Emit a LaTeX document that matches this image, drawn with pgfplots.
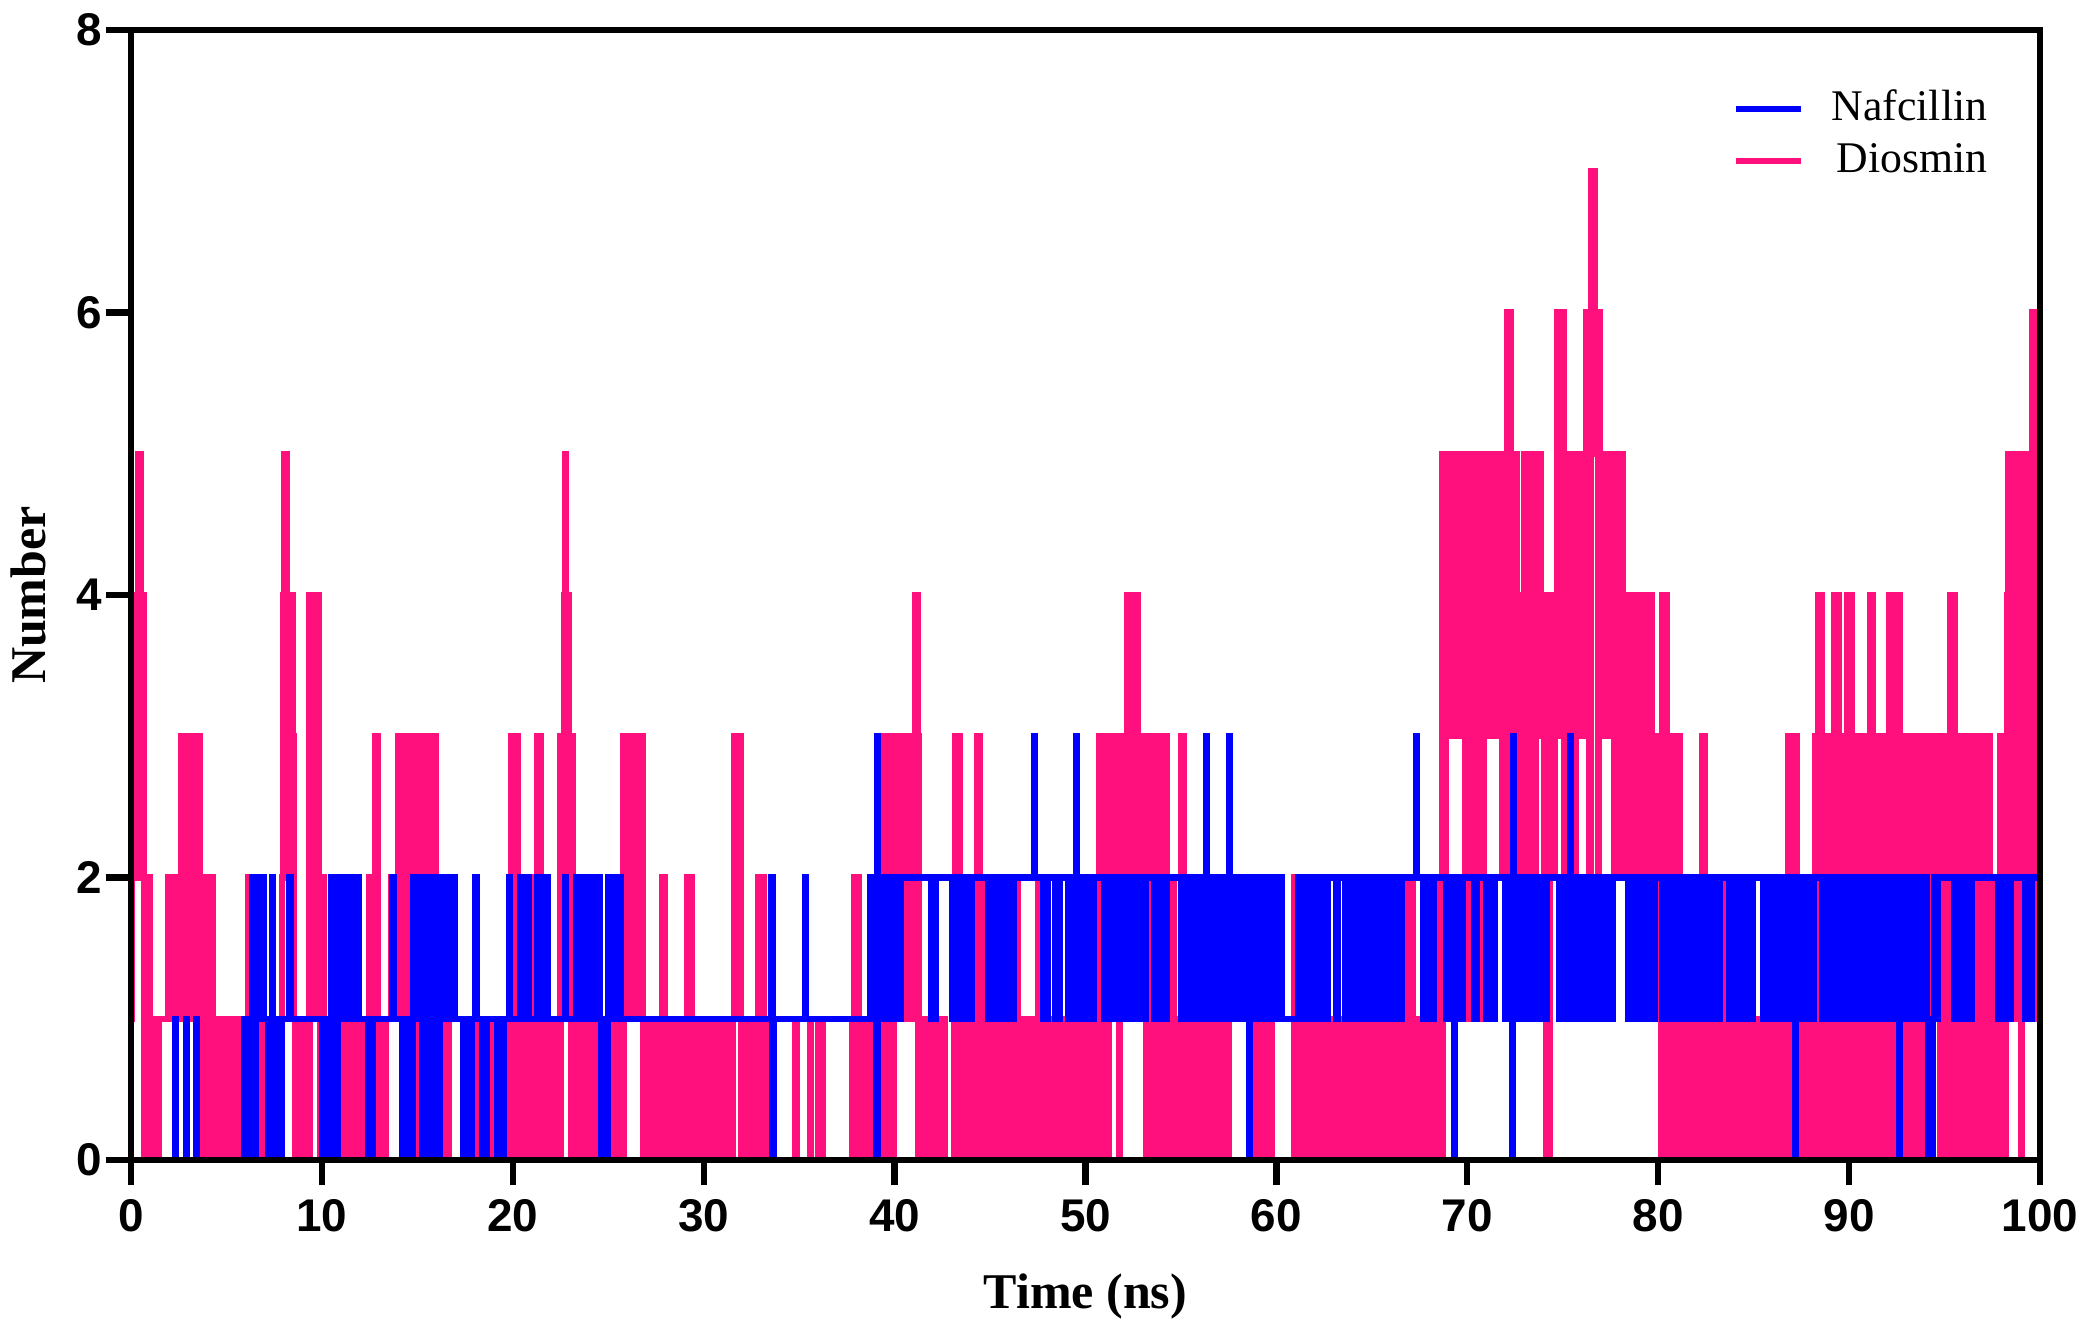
\documentclass[border=0pt]{standalone}
\usepackage{fontspec}
\setmainfont{Liberation Serif}
\setsansfont{Liberation Sans}
\usepackage{pgfplots}
\usepackage{pgfplotstable}
\pgfplotsset{compat=1.18}
\definecolor{dio}{RGB}{255,16,125}
\definecolor{naf}{RGB}{0,0,255}

% Diosmin, one value every 0.05 ns (20 values per line = 1 ns)
\pgfplotstableread[row sep=\\]{
y\\
1\\4\\3\\4\\2\\4\\3\\5\\4\\5\\4\\4\\2\\4\\0\\2\\0\\2\\0\\2\\
0\\1\\0\\1\\0\\1\\0\\1\\0\\1\\1\\1\\1\\1\\1\\1\\1\\1\\1\\2\\
1\\2\\1\\2\\1\\2\\1\\2\\1\\2\\1\\2\\1\\3\\2\\3\\1\\3\\2\\3\\
1\\3\\2\\3\\1\\3\\2\\3\\1\\3\\2\\3\\1\\2\\0\\2\\0\\2\\1\\2\\
0\\2\\0\\2\\0\\2\\0\\1\\0\\1\\0\\1\\0\\1\\0\\1\\0\\1\\0\\1\\
1\\1\\1\\1\\0\\1\\0\\1\\0\\1\\0\\1\\0\\1\\0\\1\\0\\1\\0\\1\\
0\\1\\0\\2\\1\\2\\0\\1\\1\\1\\1\\1\\0\\1\\1\\1\\1\\1\\1\\0\\
0\\1\\0\\1\\0\\1\\1\\1\\1\\1\\0\\1\\0\\1\\0\\1\\0\\1\\2\\4\\
5\\2\\5\\4\\2\\4\\1\\4\\2\\4\\3\\1\\0\\1\\0\\1\\0\\1\\0\\1\\
0\\1\\0\\1\\0\\1\\0\\4\\1\\4\\2\\4\\1\\4\\2\\4\\4\\1\\0\\1\\
1\\2\\1\\0\\1\\0\\0\\0\\1\\0\\0\\1\\0\\0\\1\\0\\1\\0\\0\\1\\
0\\1\\0\\1\\0\\1\\0\\1\\0\\1\\0\\1\\0\\1\\0\\1\\1\\1\\0\\0\\
0\\0\\1\\0\\1\\0\\1\\0\\1\\0\\2\\1\\0\\1\\0\\1\\3\\1\\3\\1\\
0\\1\\0\\1\\0\\1\\0\\1\\1\\1\\1\\1\\1\\2\\1\\2\\1\\2\\1\\2\\
3\\1\\3\\2\\0\\3\\1\\3\\0\\3\\1\\3\\0\\2\\3\\0\\3\\1\\3\\0\\
3\\0\\3\\1\\3\\0\\1\\3\\0\\1\\0\\3\\1\\0\\3\\0\\1\\0\\3\\0\\
1\\0\\1\\0\\1\\0\\1\\0\\1\\0\\1\\0\\1\\0\\0\\0\\0\\0\\0\\0\\
0\\0\\0\\0\\0\\0\\0\\0\\0\\0\\0\\0\\0\\0\\0\\0\\0\\0\\0\\0\\
1\\0\\1\\0\\0\\0\\0\\0\\1\\0\\0\\1\\0\\1\\0\\0\\1\\0\\1\\0\\
0\\1\\0\\1\\1\\0\\0\\1\\0\\1\\0\\1\\1\\0\\1\\0\\2\\1\\3\\0\\
3\\1\\3\\0\\3\\1\\2\\0\\1\\0\\1\\0\\2\\1\\2\\0\\2\\1\\2\\0\\
1\\0\\1\\0\\1\\0\\3\\1\\3\\0\\1\\0\\1\\0\\1\\0\\1\\0\\1\\0\\
1\\0\\1\\0\\1\\0\\1\\0\\1\\0\\3\\1\\3\\2\\4\\5\\4\\3\\4\\2\\
3\\0\\3\\1\\1\\0\\1\\0\\1\\0\\1\\0\\1\\0\\1\\0\\1\\0\\1\\0\\
1\\0\\1\\0\\1\\0\\1\\0\\1\\0\\1\\0\\1\\1\\1\\1\\1\\0\\1\\0\\
0\\2\\1\\0\\1\\0\\1\\0\\1\\0\\1\\0\\1\\0\\1\\0\\3\\1\\3\\2\\
3\\1\\3\\2\\3\\1\\3\\1\\3\\2\\3\\1\\3\\1\\3\\3\\1\\0\\1\\0\\
1\\0\\1\\0\\1\\0\\1\\0\\1\\0\\1\\0\\1\\0\\1\\0\\2\\0\\2\\1\\
1\\1\\1\\0\\1\\0\\1\\0\\1\\0\\1\\0\\1\\0\\1\\0\\1\\0\\1\\0\\
1\\0\\1\\2\\0\\2\\1\\2\\0\\1\\0\\1\\0\\1\\0\\1\\0\\1\\0\\1\\
0\\1\\0\\1\\0\\1\\0\\1\\0\\1\\0\\1\\1\\1\\0\\1\\0\\1\\0\\1\\
0\\1\\0\\1\\0\\1\\0\\1\\0\\1\\0\\1\\3\\2\\3\\1\\3\\2\\3\\0\\
1\\0\\1\\0\\1\\0\\1\\0\\1\\0\\1\\0\\1\\0\\1\\1\\0\\2\\0\\2\\
1\\0\\2\\0\\1\\0\\1\\0\\0\\0\\0\\0\\0\\0\\0\\0\\0\\0\\0\\0\\
0\\0\\0\\0\\0\\0\\0\\0\\0\\0\\0\\0\\0\\0\\0\\0\\1\\1\\0\\0\\
0\\0\\0\\0\\0\\0\\0\\0\\0\\0\\0\\1\\0\\0\\0\\0\\0\\0\\0\\0\\
1\\0\\0\\0\\1\\0\\0\\0\\0\\0\\0\\0\\0\\0\\0\\0\\0\\0\\0\\0\\
0\\0\\0\\0\\0\\0\\0\\0\\0\\0\\0\\0\\0\\0\\0\\0\\1\\0\\2\\1\\
2\\0\\2\\1\\0\\1\\0\\1\\0\\1\\0\\1\\0\\0\\0\\0\\0\\1\\0\\0\\
0\\0\\0\\1\\0\\1\\0\\3\\1\\3\\0\\3\\1\\3\\0\\3\\1\\3\\0\\3\\
1\\3\\2\\3\\1\\3\\2\\3\\1\\3\\2\\3\\1\\3\\2\\3\\1\\3\\2\\3\\
1\\3\\4\\4\\3\\0\\1\\0\\1\\0\\1\\0\\1\\0\\1\\0\\1\\0\\1\\0\\
1\\0\\1\\0\\1\\0\\1\\0\\1\\0\\1\\0\\1\\0\\0\\0\\0\\0\\0\\0\\
0\\0\\1\\3\\0\\3\\1\\3\\0\\1\\0\\1\\0\\1\\0\\1\\0\\1\\0\\1\\
0\\1\\0\\1\\0\\1\\3\\0\\3\\1\\0\\1\\2\\1\\0\\1\\0\\1\\0\\1\\
0\\1\\0\\1\\0\\1\\0\\1\\0\\1\\0\\1\\0\\1\\0\\1\\0\\1\\0\\1\\
0\\1\\0\\1\\0\\1\\0\\1\\2\\1\\1\\0\\1\\0\\1\\0\\1\\0\\1\\0\\
1\\0\\1\\0\\1\\0\\1\\0\\1\\0\\2\\0\\0\\0\\1\\0\\0\\1\\0\\1\\
0\\1\\0\\1\\0\\1\\0\\1\\0\\1\\0\\1\\0\\1\\0\\1\\0\\1\\0\\1\\
0\\1\\2\\1\\0\\1\\0\\1\\0\\1\\0\\1\\0\\1\\0\\1\\0\\1\\0\\1\\
2\\1\\0\\1\\0\\1\\0\\1\\0\\1\\0\\1\\0\\1\\3\\1\\3\\1\\0\\1\\
3\\1\\3\\0\\3\\1\\3\\2\\3\\1\\3\\1\\3\\1\\3\\0\\3\\1\\3\\2\\
3\\1\\3\\2\\4\\3\\4\\3\\4\\1\\3\\3\\4\\2\\4\\3\\3\\3\\3\\1\\
3\\1\\3\\0\\3\\1\\3\\0\\3\\1\\3\\0\\3\\1\\3\\2\\3\\0\\3\\1\\
3\\0\\3\\1\\3\\0\\1\\0\\2\\0\\1\\0\\2\\0\\1\\0\\1\\0\\1\\0\\
3\\0\\3\\1\\0\\1\\0\\1\\0\\1\\0\\1\\0\\1\\0\\1\\0\\1\\0\\1\\
0\\0\\0\\1\\0\\1\\2\\1\\0\\1\\0\\1\\0\\0\\0\\1\\0\\1\\0\\1\\
0\\1\\2\\1\\0\\1\\2\\1\\0\\1\\0\\0\\0\\0\\0\\0\\0\\0\\0\\0\\
0\\0\\0\\0\\0\\0\\0\\0\\0\\0\\0\\0\\0\\0\\0\\0\\0\\0\\1\\0\\
1\\0\\2\\0\\1\\0\\1\\0\\2\\0\\1\\0\\1\\0\\1\\0\\0\\0\\0\\0\\
0\\0\\0\\0\\0\\0\\0\\0\\0\\0\\0\\0\\0\\0\\0\\0\\0\\0\\0\\2\\
1\\0\\2\\0\\1\\0\\1\\0\\1\\0\\1\\0\\1\\0\\1\\0\\1\\0\\1\\0\\
1\\0\\1\\0\\1\\0\\1\\0\\1\\0\\1\\0\\1\\0\\1\\0\\0\\0\\0\\1\\
0\\1\\0\\0\\0\\0\\0\\1\\0\\1\\0\\1\\0\\1\\0\\1\\0\\1\\0\\1\\
0\\1\\0\\1\\0\\1\\0\\1\\0\\1\\0\\1\\0\\1\\0\\1\\0\\1\\0\\1\\
0\\1\\0\\2\\0\\1\\0\\1\\0\\1\\0\\1\\0\\1\\0\\1\\0\\1\\0\\1\\
0\\1\\0\\1\\0\\1\\0\\1\\0\\1\\0\\1\\0\\1\\2\\0\\2\\1\\2\\0\\
2\\1\\2\\0\\1\\0\\1\\0\\1\\0\\1\\0\\1\\0\\1\\0\\1\\0\\1\\0\\
1\\0\\1\\0\\1\\0\\2\\0\\2\\1\\2\\0\\1\\0\\5\\3\\5\\2\\5\\3\\
5\\3\\5\\4\\5\\3\\5\\3\\4\\5\\3\\5\\4\\5\\3\\5\\3\\5\\2\\5\\
3\\5\\1\\5\\3\\5\\2\\5\\3\\5\\4\\5\\2\\5\\3\\5\\1\\5\\3\\5\\
3\\5\\4\\5\\3\\5\\4\\5\\3\\5\\4\\5\\3\\5\\4\\5\\2\\5\\3\\5\\
5\\2\\6\\5\\6\\6\\3\\5\\3\\5\\2\\5\\4\\3\\4\\3\\4\\2\\4\\1\\
5\\3\\5\\2\\5\\3\\5\\1\\5\\3\\5\\2\\5\\3\\5\\3\\5\\3\\4\\3\\
4\\2\\4\\0\\3\\0\\4\\2\\4\\3\\4\\2\\4\\3\\6\\5\\6\\6\\5\\3\\
6\\2\\5\\3\\5\\1\\5\\3\\5\\2\\5\\3\\5\\2\\3\\5\\4\\5\\3\\5\\
4\\5\\3\\5\\6\\3\\6\\5\\2\\6\\7\\7\\6\\7\\6\\5\\6\\2\\6\\5\\
3\\5\\4\\5\\3\\5\\4\\5\\3\\5\\4\\5\\3\\5\\2\\5\\3\\5\\2\\5\\
5\\3\\5\\2\\3\\4\\2\\4\\3\\4\\2\\4\\3\\4\\2\\4\\3\\2\\3\\1\\
3\\4\\2\\4\\3\\2\\3\\1\\3\\2\\4\\3\\4\\2\\3\\1\\3\\2\\3\\1\\
3\\1\\3\\0\\4\\3\\4\\0\\4\\0\\3\\0\\3\\1\\3\\0\\3\\0\\3\\0\\
3\\0\\3\\1\\0\\1\\0\\1\\0\\1\\0\\1\\0\\1\\0\\1\\0\\1\\0\\1\\
0\\1\\0\\1\\0\\1\\3\\0\\3\\1\\0\\1\\0\\1\\0\\1\\0\\1\\0\\1\\
0\\1\\0\\1\\0\\1\\0\\2\\0\\1\\0\\1\\0\\1\\0\\1\\0\\1\\0\\1\\
0\\1\\0\\1\\0\\1\\0\\1\\0\\1\\0\\1\\0\\1\\0\\2\\0\\1\\0\\1\\
0\\1\\0\\1\\0\\1\\0\\1\\0\\1\\0\\1\\0\\1\\0\\1\\0\\1\\0\\1\\
0\\1\\0\\1\\0\\1\\0\\1\\0\\1\\0\\1\\0\\1\\0\\2\\3\\0\\3\\1\\
3\\0\\3\\1\\3\\0\\1\\0\\1\\0\\1\\0\\1\\0\\1\\0\\1\\0\\1\\0\\
0\\1\\0\\1\\3\\0\\3\\1\\4\\3\\4\\0\\3\\1\\3\\0\\3\\1\\3\\0\\
3\\1\\3\\0\\4\\1\\4\\1\\4\\2\\3\\0\\3\\1\\3\\0\\3\\1\\4\\0\\
4\\0\\4\\1\\3\\0\\3\\1\\3\\0\\3\\1\\3\\0\\3\\1\\3\\0\\3\\1\\
3\\0\\4\\1\\4\\0\\3\\1\\3\\0\\3\\1\\3\\0\\3\\1\\3\\0\\3\\1\\
3\\0\\4\\1\\4\\0\\4\\1\\3\\0\\4\\1\\4\\0\\3\\1\\3\\0\\3\\1\\
3\\0\\3\\1\\3\\0\\1\\1\\3\\0\\3\\1\\3\\0\\3\\1\\3\\0\\3\\1\\
3\\0\\1\\0\\1\\0\\3\\0\\3\\1\\3\\1\\3\\1\\3\\0\\3\\1\\3\\0\\
3\\1\\3\\0\\3\\1\\4\\1\\4\\0\\4\\3\\0\\3\\1\\3\\0\\3\\1\\3\\
3\\0\\3\\1\\3\\0\\3\\1\\3\\0\\3\\1\\3\\0\\3\\1\\3\\0\\3\\1\\
3\\0\\3\\1\\3\\0\\3\\1\\0\\1\\0\\2\\0\\1\\0\\2\\0\\1\\3\\0\\
3\\1\\3\\0\\3\\1\\4\\5\\4\\1\\5\\4\\5\\1\\4\\5\\4\\5\\1\\3\\
0\\3\\5\\1\\5\\4\\5\\3\\5\\1\\3\\1\\6\\3\\6\\4\\6\\1\\4\\3\\
3\\
}\diosmin

% Nafcillin, one value every 0.05 ns (20 values per line = 1 ns)
\pgfplotstableread[row sep=\\]{
y\\
0\\0\\0\\0\\0\\0\\0\\0\\0\\0\\0\\0\\0\\0\\0\\0\\0\\0\\0\\0\\
0\\0\\0\\0\\0\\0\\0\\0\\0\\0\\0\\0\\0\\0\\0\\0\\0\\0\\0\\0\\
0\\0\\0\\0\\0\\0\\1\\0\\0\\0\\0\\0\\0\\0\\0\\0\\0\\0\\1\\0\\
0\\0\\0\\0\\0\\0\\0\\0\\1\\0\\0\\0\\0\\0\\0\\0\\0\\0\\0\\0\\
0\\0\\0\\0\\0\\0\\0\\0\\0\\0\\0\\0\\0\\0\\0\\0\\0\\0\\0\\0\\
0\\0\\0\\0\\0\\0\\0\\0\\0\\0\\0\\0\\0\\0\\0\\0\\0\\0\\1\\0\\
1\\0\\1\\0\\1\\0\\1\\2\\1\\2\\0\\2\\1\\2\\1\\2\\1\\1\\2\\1\\
1\\1\\1\\1\\0\\1\\1\\1\\2\\1\\1\\1\\0\\1\\0\\1\\1\\0\\1\\1\\
1\\1\\1\\1\\1\\1\\2\\1\\1\\1\\1\\1\\1\\1\\1\\1\\1\\1\\1\\1\\
1\\1\\1\\1\\1\\1\\1\\1\\1\\1\\1\\1\\1\\1\\1\\1\\1\\1\\1\\1\\
0\\1\\0\\1\\0\\1\\0\\1\\0\\1\\2\\0\\2\\0\\2\\1\\0\\1\\2\\1\\
2\\1\\2\\1\\2\\1\\2\\1\\2\\1\\2\\1\\2\\1\\2\\1\\2\\1\\2\\1\\
1\\1\\1\\1\\1\\1\\1\\1\\0\\1\\1\\1\\0\\1\\1\\1\\1\\1\\1\\1\\
1\\1\\1\\1\\1\\1\\1\\1\\1\\1\\1\\1\\1\\1\\2\\1\\1\\1\\1\\1\\
1\\1\\1\\1\\0\\1\\0\\1\\0\\1\\0\\1\\0\\1\\0\\1\\2\\1\\2\\1\\
2\\1\\2\\1\\2\\0\\2\\1\\2\\1\\0\\1\\2\\1\\2\\1\\0\\2\\1\\2\\
1\\2\\1\\0\\2\\1\\2\\1\\2\\1\\2\\1\\2\\1\\1\\1\\1\\1\\2\\1\\
1\\1\\1\\1\\1\\1\\1\\1\\0\\1\\0\\1\\0\\1\\0\\1\\0\\1\\1\\1\\
1\\2\\1\\1\\1\\1\\1\\1\\0\\1\\0\\1\\0\\1\\1\\1\\1\\1\\1\\1\\
1\\1\\1\\1\\0\\1\\0\\1\\0\\1\\0\\1\\1\\1\\1\\1\\2\\1\\1\\1\\
1\\1\\1\\1\\1\\1\\1\\1\\2\\1\\1\\1\\1\\1\\1\\1\\2\\1\\1\\1\\
1\\1\\1\\1\\1\\1\\2\\1\\1\\1\\2\\1\\1\\1\\1\\1\\2\\1\\1\\1\\
1\\1\\1\\1\\1\\1\\1\\1\\1\\1\\1\\1\\1\\1\\1\\2\\1\\1\\1\\1\\
1\\1\\1\\1\\1\\1\\2\\1\\2\\1\\1\\1\\1\\1\\1\\1\\2\\1\\2\\1\\
2\\1\\2\\1\\2\\1\\2\\1\\2\\1\\2\\1\\1\\0\\1\\0\\1\\0\\1\\0\\
2\\1\\2\\1\\2\\1\\2\\1\\2\\1\\2\\1\\2\\1\\1\\1\\1\\1\\1\\1\\
1\\1\\1\\1\\1\\1\\1\\1\\1\\1\\1\\1\\1\\1\\1\\1\\1\\1\\1\\1\\
1\\1\\1\\1\\1\\1\\1\\1\\1\\1\\1\\1\\1\\1\\1\\1\\1\\1\\1\\1\\
1\\1\\1\\1\\1\\1\\1\\1\\1\\1\\1\\1\\1\\1\\1\\1\\1\\1\\1\\1\\
1\\1\\1\\1\\1\\1\\1\\1\\1\\1\\1\\1\\1\\1\\1\\1\\1\\1\\1\\1\\
1\\1\\1\\1\\1\\1\\1\\1\\1\\1\\1\\1\\1\\1\\1\\1\\1\\1\\1\\1\\
1\\1\\1\\1\\1\\1\\1\\1\\1\\1\\1\\1\\1\\1\\1\\1\\1\\1\\1\\1\\
1\\1\\1\\1\\1\\1\\1\\1\\1\\1\\1\\1\\1\\1\\1\\1\\1\\1\\1\\1\\
1\\1\\1\\1\\1\\1\\1\\1\\1\\1\\1\\2\\0\\1\\1\\1\\1\\1\\1\\1\\
1\\1\\1\\1\\1\\1\\1\\1\\1\\1\\1\\1\\1\\1\\1\\1\\1\\1\\1\\1\\
1\\1\\1\\1\\1\\1\\2\\1\\1\\1\\1\\1\\1\\1\\1\\1\\1\\1\\1\\1\\
1\\1\\1\\1\\1\\1\\1\\1\\1\\1\\1\\1\\1\\1\\1\\1\\1\\1\\1\\1\\
1\\1\\1\\1\\1\\1\\1\\1\\1\\1\\1\\1\\1\\1\\1\\1\\1\\1\\1\\1\\
1\\1\\1\\1\\1\\1\\1\\1\\1\\1\\1\\1\\1\\1\\2\\1\\2\\1\\2\\1\\
2\\0\\3\\2\\1\\2\\1\\2\\1\\2\\1\\2\\1\\2\\1\\2\\1\\2\\1\\2\\
1\\2\\1\\2\\1\\2\\1\\2\\2\\2\\2\\2\\2\\2\\2\\2\\2\\2\\2\\2\\
2\\2\\2\\2\\2\\2\\2\\2\\2\\2\\2\\2\\2\\2\\2\\2\\2\\2\\1\\2\\
1\\2\\1\\2\\2\\2\\2\\2\\2\\2\\2\\2\\2\\2\\2\\2\\2\\2\\2\\2\\
1\\2\\1\\2\\1\\2\\2\\1\\2\\1\\2\\1\\2\\2\\1\\2\\1\\2\\1\\2\\
1\\2\\2\\2\\2\\2\\2\\2\\2\\2\\2\\2\\2\\2\\2\\2\\2\\2\\1\\2\\
1\\2\\1\\2\\1\\2\\1\\2\\1\\2\\1\\2\\2\\2\\2\\2\\1\\2\\1\\2\\
1\\2\\1\\2\\1\\2\\2\\2\\2\\2\\2\\2\\2\\2\\2\\2\\2\\2\\2\\2\\
2\\2\\2\\2\\2\\2\\3\\2\\2\\2\\2\\2\\2\\2\\2\\2\\1\\2\\1\\2\\
1\\2\\2\\2\\2\\2\\2\\2\\1\\2\\1\\2\\1\\2\\2\\2\\2\\2\\2\\2\\
2\\2\\1\\2\\1\\2\\1\\2\\1\\2\\3\\2\\1\\2\\1\\2\\1\\2\\2\\2\\
1\\2\\1\\2\\1\\2\\1\\2\\1\\2\\2\\2\\2\\2\\2\\2\\2\\2\\2\\2\\
1\\2\\1\\2\\1\\2\\1\\2\\1\\2\\1\\2\\1\\2\\1\\2\\1\\2\\1\\2\\
1\\2\\1\\2\\1\\2\\2\\2\\1\\2\\1\\2\\1\\2\\1\\2\\1\\2\\1\\2\\
1\\2\\1\\2\\2\\2\\2\\2\\2\\2\\2\\2\\1\\2\\1\\2\\1\\2\\1\\2\\
1\\2\\1\\2\\1\\2\\2\\2\\2\\2\\2\\2\\2\\2\\2\\2\\2\\2\\2\\2\\
1\\2\\1\\2\\1\\2\\1\\2\\1\\2\\1\\2\\1\\2\\1\\2\\2\\2\\1\\2\\
1\\2\\1\\2\\1\\2\\3\\2\\1\\2\\1\\2\\1\\2\\2\\2\\2\\2\\1\\2\\
2\\2\\1\\2\\2\\2\\1\\2\\2\\2\\3\\2\\2\\2\\1\\2\\1\\2\\2\\2\\
1\\2\\1\\2\\1\\2\\1\\2\\1\\2\\1\\0\\1\\2\\1\\2\\1\\2\\1\\2\\
1\\2\\1\\2\\1\\2\\1\\2\\1\\2\\1\\2\\1\\2\\1\\2\\1\\2\\1\\2\\
1\\2\\1\\2\\1\\2\\1\\1\\1\\1\\1\\1\\1\\1\\1\\1\\1\\1\\1\\1\\
1\\1\\1\\2\\1\\2\\1\\2\\1\\2\\1\\2\\1\\2\\1\\2\\1\\2\\1\\2\\
1\\2\\1\\2\\2\\2\\2\\1\\2\\2\\2\\2\\2\\1\\2\\2\\2\\2\\2\\2\\
2\\2\\2\\1\\2\\2\\2\\2\\2\\2\\2\\2\\1\\2\\1\\2\\1\\2\\1\\2\\
1\\2\\1\\2\\1\\2\\1\\2\\1\\2\\1\\2\\1\\2\\1\\2\\1\\2\\1\\2\\
2\\2\\2\\2\\2\\2\\1\\2\\1\\2\\1\\2\\1\\2\\1\\2\\1\\2\\1\\2\\
1\\2\\1\\2\\1\\2\\1\\2\\1\\2\\1\\2\\2\\2\\2\\2\\2\\2\\2\\2\\
2\\2\\2\\2\\2\\2\\3\\2\\2\\2\\2\\2\\2\\2\\1\\2\\1\\2\\1\\2\\
1\\2\\1\\2\\1\\2\\2\\2\\2\\2\\2\\2\\2\\2\\2\\2\\2\\2\\1\\2\\
2\\2\\1\\2\\2\\2\\0\\2\\1\\2\\2\\2\\2\\2\\1\\2\\2\\2\\2\\2\\
2\\2\\2\\2\\2\\2\\2\\1\\2\\1\\2\\2\\2\\2\\2\\2\\2\\2\\2\\2\\
1\\2\\1\\2\\1\\2\\1\\2\\1\\2\\2\\2\\2\\2\\2\\2\\2\\2\\2\\2\\
1\\2\\1\\2\\1\\2\\1\\0\\3\\2\\1\\2\\1\\2\\1\\2\\1\\2\\1\\2\\
1\\2\\1\\2\\2\\2\\2\\2\\2\\2\\1\\2\\1\\2\\1\\2\\1\\2\\2\\2\\
1\\2\\1\\2\\2\\2\\2\\2\\2\\2\\2\\2\\2\\2\\2\\2\\1\\2\\1\\2\\
1\\2\\1\\2\\1\\2\\1\\2\\3\\2\\1\\2\\2\\2\\2\\1\\2\\1\\2\\1\\
2\\1\\2\\1\\2\\1\\2\\1\\2\\1\\2\\1\\2\\1\\2\\1\\2\\2\\2\\2\\
2\\2\\1\\2\\1\\2\\1\\2\\1\\2\\1\\2\\1\\2\\2\\2\\2\\2\\2\\2\\
2\\2\\2\\2\\2\\2\\2\\2\\1\\2\\1\\2\\1\\2\\1\\2\\1\\2\\1\\2\\
1\\2\\1\\2\\1\\2\\1\\2\\1\\2\\1\\2\\1\\2\\1\\2\\1\\2\\2\\2\\
2\\2\\2\\2\\1\\2\\1\\2\\1\\2\\1\\2\\1\\2\\1\\2\\1\\2\\1\\2\\
1\\2\\1\\2\\1\\2\\1\\2\\1\\2\\1\\2\\1\\2\\1\\2\\1\\2\\2\\2\\
2\\2\\2\\2\\1\\2\\1\\2\\1\\2\\1\\2\\1\\2\\1\\2\\2\\2\\2\\2\\
1\\2\\1\\2\\1\\2\\2\\2\\2\\2\\2\\2\\2\\2\\1\\2\\1\\2\\1\\2\\
1\\2\\1\\2\\1\\2\\1\\2\\1\\2\\1\\2\\1\\2\\1\\2\\1\\2\\1\\2\\
2\\2\\2\\2\\2\\2\\2\\2\\2\\2\\1\\2\\1\\2\\1\\2\\1\\2\\1\\2\\
1\\2\\1\\2\\1\\2\\1\\2\\1\\2\\1\\2\\1\\2\\1\\2\\1\\2\\1\\2\\
1\\2\\1\\0\\1\\2\\1\\2\\1\\2\\1\\2\\1\\2\\1\\2\\1\\2\\1\\2\\
1\\2\\1\\2\\2\\2\\2\\2\\2\\2\\2\\2\\1\\2\\1\\2\\1\\2\\1\\2\\
1\\2\\1\\2\\1\\2\\1\\2\\1\\2\\1\\2\\1\\2\\1\\2\\1\\2\\1\\2\\
1\\2\\1\\2\\1\\2\\1\\2\\1\\2\\1\\2\\1\\2\\1\\2\\1\\2\\1\\2\\
1\\2\\1\\2\\1\\2\\1\\2\\1\\2\\1\\2\\1\\2\\1\\2\\1\\2\\1\\2\\
1\\2\\1\\2\\1\\2\\1\\2\\1\\2\\1\\2\\0\\1\\2\\1\\2\\1\\2\\1\\
2\\1\\2\\1\\2\\1\\2\\1\\2\\1\\2\\1\\2\\1\\2\\1\\2\\1\\2\\1\\
1\\2\\1\\0\\1\\0\\1\\0\\1\\2\\1\\2\\1\\2\\2\\2\\2\\2\\2\\2\\
2\\2\\2\\2\\2\\2\\2\\2\\2\\2\\1\\2\\1\\2\\1\\2\\1\\2\\1\\2\\
1\\2\\1\\2\\1\\2\\2\\2\\1\\2\\2\\2\\2\\2\\2\\2\\2\\2\\2\\2\\
2\\2\\2\\2\\2\\2\\2\\2\\2\\2\\2\\2\\2\\2\\2\\2\\1\\2\\1\\2\\
1\\2\\1\\2\\1\\2\\1\\2\\1\\2\\2\\2\\2\\2\\2\\2\\2\\2\\2\\2\\
2\\2\\2\\2\\1\\2\\1\\2\\1\\2\\1\\2\\2\\2\\2\\2\\2\\2\\2\\2\\
2\\
}\nafcillin

\begin{document}
\begin{tikzpicture}
\useasboundingbox (-31.44pt,-41.28pt) rectangle (470.16pt,278.4pt);
\begin{axis}[
  at={(0pt,0pt)}, anchor=south west,
  width=458.16pt, height=271.2pt, scale only axis,
  xmin=0, xmax=100, ymin=0, ymax=8,
  xtick={0,10,...,100}, ytick={0,2,4,6,8},
  xtick pos=bottom, ytick pos=left,
  tick align=outside, major tick length=6pt,
  axis line style={line width=1.5pt, black},
  tick style={black, line width=1.5pt},
  tick label style={font=\fontsize{11}{11}\selectfont\sffamily\bfseries},
  yticklabel style={xshift=2.6pt},
  /pgf/number format/assume math mode=true,
  xlabel={Time (ns)}, ylabel={Number},
  label style={font=\fontsize{12}{12}\selectfont\bfseries},
  xlabel style={at={(axis description cs:0.5,-0.131)}, anchor=base},
  ylabel style={at={(axis description cs:-0.045,0.5)}, anchor=base},
  axis on top,
  reverse legend,
  legend style={draw=none, fill=none, inner sep=0pt, row sep=-0.15pt,
    at={(axis description cs:0.9772,0.955)}, anchor=north east,
    font=\fontsize{10.5}{12}\selectfont,
    /tikz/every odd column/.append style={column sep=4.6pt}},
  legend cell align=right,
  legend image code/.code={\draw[#1, line width=1.4pt] (0pt,0pt) -- (15.6pt,0pt);},
]
\addplot[dio, line width=1.5pt, const plot mark left] table[x expr=\coordindex*0.05, y=y]{\diosmin};
\addlegendentry{Diosmin}
\addplot[naf, line width=1.5pt, const plot mark left] table[x expr=\coordindex*0.05, y=y]{\nafcillin};
\addlegendentry{Nafcillin}
\end{axis}
\end{tikzpicture}
\end{document}
